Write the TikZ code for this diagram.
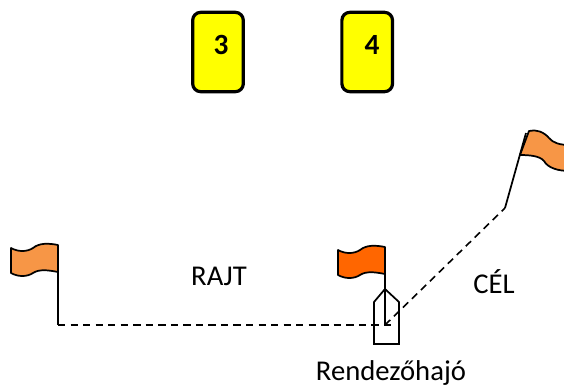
\documentclass[tikz,border=0pt]{standalone}
\usepackage{fontspec}
\setmainfont{Carlito}
\usetikzlibrary{positioning}
\definecolor{lightflag}{HTML}{F79646}
\definecolor{darkflag}{HTML}{FF6600}
\definecolor{boardyellow}{HTML}{FFFF00}

\begin{document}
\begin{tikzpicture}
    [x=0.75pt, y=-0.75pt, font=\fontsize{21.5}{25}\selectfont,
    % The card style is used to draw the yellow boards
    card/.style={rectangle, draw, line width=2.4pt, fill=boardyellow, rounded corners=6pt, minimum width=38pt, minimum height=59.5pt},
    % The number on a board sits in its upper half
    number/.style={font=\fontsize{22}{26}\selectfont\bfseries},
    % The flag styles are used for the cloth and the pole
    cloth/.style={draw, line width=1.3pt, line join=round},
    pole/.style={line width=1.3pt},
    course/.style={line width=1.2pt, dash pattern=on 5.5pt off 3.9pt}]

    \useasboundingbox (0,0) rectangle (564,387);

    % Draw boards
    \node [card] (three) at (218,52) {};
    \node [card, right=71.5pt of three] (four) {};
    \node [number] (n3) at (221,45) {3};
    \node [number] (n4) at (372,45) {4};

    % Draw labels
    \node (rajt) at (219,276) {RAJT};
    \node (cel) at (494,282) {CÉL};
    \node (hajo) at (391,373) {Rendezőhajó};

    % Draw flags
    \path[cloth, fill=lightflag]
    (58,245) .. controls (48,243) and (39,243) .. (33,248)
    .. controls (27,252) and (18,252) .. (11,248)
    -- (11,273) .. controls (18,277) and (27,277) .. (33,273)
    .. controls (39,269) and (48,270) .. (58,272) -- cycle;
    \path[cloth, fill=darkflag]
    (385,247) .. controls (375,245) and (366,245) .. (360,250)
    .. controls (354,254) and (345,254) .. (338,250)
    -- (338,275) .. controls (345,279) and (354,279) .. (360,275)
    .. controls (366,271) and (375,272) .. (385,274) -- cycle;
    \path[cloth, fill=lightflag]
    (529,131) .. controls (536,129) and (544,132) .. (549,138)
    .. controls (553,143) and (560,145) .. (570,145)
    -- (570,171) .. controls (558,171) and (548,168) .. (544,161)
    .. controls (540,156) and (530,155) .. (520,155) -- cycle;

    % Draw course
    \coordinate (start) at (58,325);
    \coordinate (boat) at (385,325);
    \coordinate (stern) at (396,325);
    \coordinate (mark) at (505,208);
    \coordinate (tip) at (526,133);

    \draw[pole] (58,245) -- (start);
    \draw[pole] (385,247) -- (boat);
    \draw[pole] (mark) -- (tip);
    \draw[course] (start) -- (stern);
    \draw[course] (boat) -- (mark);

    % Draw boat
    \draw[pole, line join=miter] (385,289) -- (399,302) -- (399,344) -- (374,344) -- (374,302) -- cycle;
\end{tikzpicture}
\end{document}
